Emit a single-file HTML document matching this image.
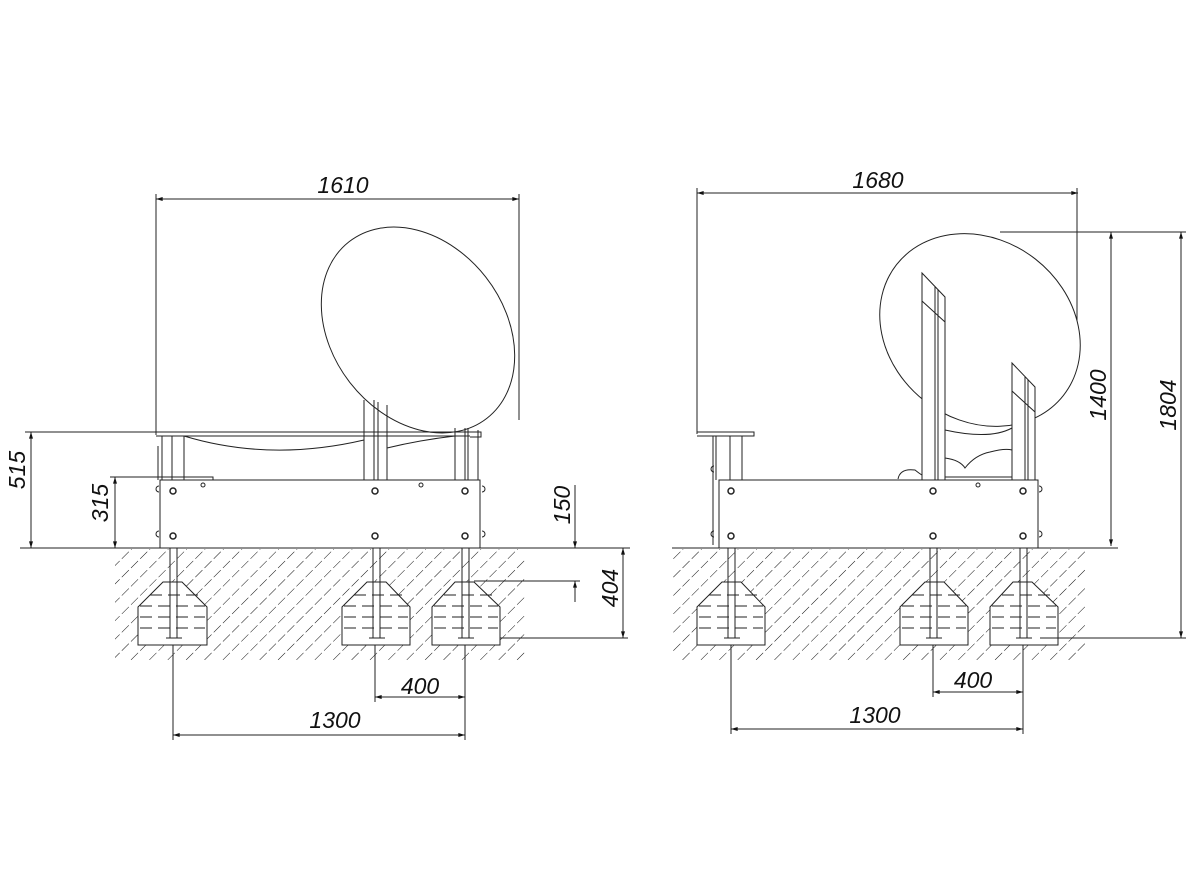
<!DOCTYPE html>
<html><head><meta charset="utf-8"><style>
html,body{margin:0;padding:0;background:#fff}
svg{display:block}
text{font-family:"Liberation Sans",sans-serif;font-style:italic;font-size:23px;fill:#111}
</style></head><body>
<svg width="1200" height="895" viewBox="0 0 1200 895" xmlns="http://www.w3.org/2000/svg">
<defs>
<marker id="a" viewBox="0 0 10 6" refX="10" refY="3" markerWidth="7" markerHeight="4" orient="auto-start-reverse"><path d="M0,0L10,3L0,6z" fill="#111"/></marker>
<pattern id="h" patternUnits="userSpaceOnUse" width="13" height="13" patternTransform="rotate(45)">
<line x1="0" y1="0" x2="0" y2="13" stroke="#111" stroke-width="1" stroke-dasharray="10,3"/>
</pattern>
</defs>
<g stroke="#222" stroke-width="1" fill="none">
<rect x="115" y="549" width="410" height="111" fill="url(#h)" stroke="none"/>
<rect x="672" y="549" width="413" height="111" fill="url(#h)" stroke="none"/>

<!-- ===== LEFT VIEW ===== -->
<line x1="156" y1="199" x2="519" y2="199" marker-start="url(#a)" marker-end="url(#a)"/>
<line x1="156" y1="194" x2="156" y2="435"/>
<line x1="519" y1="194" x2="519" y2="420"/>
<ellipse cx="418" cy="330" rx="112" ry="86" transform="rotate(52 418 330)" fill="#fff"/>
<path d="M156,432H470M156,436H470M470,432H481V437H470"/>
<path d="M184,436Q270,462 364,440M387,448Q420,440 455,436"/>
<path d="M162,436V480M172,436V480M184,436V480M158,446V480"/>
<path d="M364,400V480M374,400V480M378,402V480M387,405V480"/>
<path d="M455,428V480M465,428V480M468,428V480M478,430V480"/>
<rect x="160" y="480" width="320" height="68" fill="#fff"/>
<path d="M110,477H213V480"/>
<g stroke-width="1.5">
<circle cx="173" cy="491" r="3"/><circle cx="375" cy="491" r="3"/><circle cx="465" cy="491" r="3"/>
<circle cx="173" cy="536" r="3"/><circle cx="375" cy="536" r="3"/><circle cx="465" cy="536" r="3"/>
</g>
<circle cx="203" cy="485" r="2"/><circle cx="421" cy="485" r="2"/>
<path d="M159,486a3,3 0 0,0 0,6M159,531a3,3 0 0,0 0,6M482,486a3,3 0 0,1 0,6M482,531a3,3 0 0,1 0,6"/>
<line x1="20" y1="548" x2="630" y2="548"/>
<g fill="#fff">
<path d="M138,607L163,582H182L207,607V645H138Z"/>
<path d="M342,607L367,582H386L410,607V645H342Z"/>
<path d="M432,607L455,582H474L500,607V645H432Z"/>
</g>
<g stroke-dasharray="12,6">
<path d="M150,595H200M140,606H205M140,617H205M140,628H205M354,595H402M344,606H408M344,617H408M344,628H408M444,595H494M434,606H498M434,617H498M434,628H498"/>
</g>
<path d="M170,548V638M177,548V638M166,638H182M373,548V638M380,548V638M369,638H385M462,548V638M469,548V638M458,638H474"/>
<path d="M25,432H156"/>
<line x1="31" y1="432" x2="31" y2="548" marker-start="url(#a)" marker-end="url(#a)"/>
<line x1="115" y1="477" x2="115" y2="548" marker-start="url(#a)" marker-end="url(#a)"/>
<path d="M474,581H580"/>
<line x1="575" y1="485" x2="575" y2="548" marker-end="url(#a)"/>
<line x1="575" y1="602" x2="575" y2="581" marker-end="url(#a)"/>
<path d="M500,638H628"/>
<line x1="623" y1="548" x2="623" y2="638" marker-start="url(#a)" marker-end="url(#a)"/>
<path d="M173,645V740M375,645V702M465,645V740"/>
<line x1="375" y1="697" x2="465" y2="697" marker-start="url(#a)" marker-end="url(#a)"/>
<line x1="173" y1="735" x2="465" y2="735" marker-start="url(#a)" marker-end="url(#a)"/>

<!-- ===== RIGHT VIEW ===== -->
<line x1="697" y1="193" x2="1078" y2="193" marker-start="url(#a)" marker-end="url(#a)"/>
<line x1="697" y1="188" x2="697" y2="434"/>
<line x1="1077" y1="188" x2="1077" y2="345"/>
<ellipse cx="980" cy="330" rx="106" ry="90" transform="rotate(38 980 330)" fill="#fff"/>
<g fill="#fff">
<path d="M922,273L945,297V480H922Z"/>
<path d="M1012,363L1035,387V480H1012Z"/>
</g>
<path d="M935,287V480M938,290V480M922,301L945,322M1025,377V480M1028,380V480M1012,391L1035,412"/>
<path d="M945,430Q990,440 1012,428"/>
<path d="M898,479Q900,468 915,470Q920,474 922,475M945,458Q960,460 965,468Q975,455 990,452Q1005,448 1012,450M945,477H1012"/>
<path d="M697,432H754V436H697M716,436V480M730,436V480M742,436V480M713,436V545"/>
<path d="M714,466a3,3 0 0,0 0,6M714,531a3,3 0 0,0 0,6"/>
<rect x="719" y="480" width="319" height="68" fill="#fff"/>
<g stroke-width="1.5">
<circle cx="731" cy="491" r="3"/><circle cx="933" cy="491" r="3"/><circle cx="1023" cy="491" r="3"/>
<circle cx="731" cy="536" r="3"/><circle cx="933" cy="536" r="3"/><circle cx="1023" cy="536" r="3"/>
</g>
<circle cx="978" cy="485" r="2"/>
<path d="M1039,486a3,3 0 0,1 0,6M1039,531a3,3 0 0,1 0,6"/>
<line x1="672" y1="548" x2="1118" y2="548"/>
<g fill="#fff">
<path d="M697,607L722,582H741L765,607V645H697Z"/>
<path d="M900,607L925,582H944L968,607V645H900Z"/>
<path d="M990,607L1013,582H1032L1058,607V645H990Z"/>
</g>
<g stroke-dasharray="12,6">
<path d="M709,595H759M699,606H763M699,617H763M699,628H763M912,595H962M902,606H966M902,617H966M902,628H966M1002,595H1052M992,606H1056M992,617H1056M992,628H1056"/>
</g>
<path d="M728,548V638M735,548V638M724,638H740M930,548V638M937,548V638M926,638H942M1020,548V638M1027,548V638M1016,638H1032"/>
<path d="M1000,232H1186M1040,638H1186"/>
<line x1="1111" y1="232" x2="1111" y2="546" marker-start="url(#a)" marker-end="url(#a)"/>
<line x1="1181" y1="232" x2="1181" y2="638" marker-start="url(#a)" marker-end="url(#a)"/>
<path d="M731,645V734M933,645V697M1023,645V734"/>
<line x1="933" y1="692" x2="1023" y2="692" marker-start="url(#a)" marker-end="url(#a)"/>
<line x1="731" y1="729" x2="1023" y2="729" marker-start="url(#a)" marker-end="url(#a)"/>
</g>

<text x="343" y="193" text-anchor="middle">1610</text>
<text x="878" y="188" text-anchor="middle">1680</text>
<text x="420" y="694" text-anchor="middle">400</text>
<text x="335" y="728" text-anchor="middle">1300</text>
<text x="973" y="688" text-anchor="middle">400</text>
<text x="875" y="723" text-anchor="middle">1300</text>
<text transform="translate(25 470) rotate(-90)" text-anchor="middle">515</text>
<text transform="translate(108 503) rotate(-90)" text-anchor="middle">315</text>
<text transform="translate(570 505) rotate(-90)" text-anchor="middle">150</text>
<text transform="translate(618 588) rotate(-90)" text-anchor="middle">404</text>
<text transform="translate(1106 395) rotate(-90)" text-anchor="middle">1400</text>
<text transform="translate(1176 405) rotate(-90)" text-anchor="middle">1804</text>
</svg>
</body></html>
